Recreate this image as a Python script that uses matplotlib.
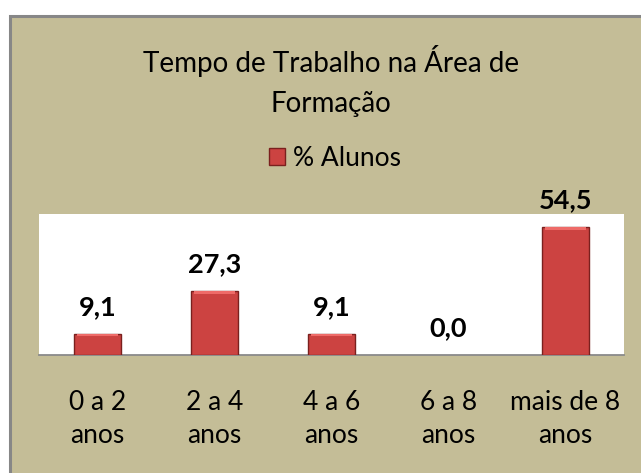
import matplotlib.pyplot as plt
from matplotlib.patches import Rectangle

plt.rcParams['font.family'] = ['Lato', 'DejaVu Sans']

# data
categories = ['0 a 2\nanos', '2 a 4\nanos', '4 a 6\nanos', '6 a 8\nanos', 'mais de 8\nanos']
values = [9.1, 27.3, 9.1, 0.0, 54.5]
value_labels = ['9,1', '27,3', '9,1', '0,0', '54,5']
series_name = '% Alunos'
title = 'Tempo de Trabalho na Área de\nFormação'

W, H = 641, 473
fig = plt.figure(figsize=(W / 100, H / 100), dpi=100, facecolor='white')

# tan chart area with grey border
fig.patches.append(Rectangle((9.5 / W, -0.2), 1.2, 1.2 - 15.5 / H,
                             transform=fig.transFigure, facecolor='#C4BD97',
                             edgecolor='#878787', linewidth=2.2, zorder=-5))

ax = fig.add_axes([39 / W, 1 - 355 / H, 585 / W, 141 / H])
ax.set_facecolor('white')

x = range(len(categories))
# no outline for empty bars
lw = [1.0 if v > 0 else 0 for v in values]
bars = ax.bar(x, values, width=0.40, color='#CC4341', edgecolor='#7A201E',
              linewidth=lw, label=series_name, zorder=3)
# light bevel on top of each bar
for b in bars:
    if b.get_height() > 0:
        ax.bar(b.get_x() + b.get_width() / 2, min(1.2, b.get_height()),
               bottom=b.get_height() - min(1.2, b.get_height()),
               width=b.get_width() * 0.86, color='#EE6B68', linewidth=0, zorder=4)

for xi, v, lab in zip(x, values, value_labels):
    ax.annotate(lab, (xi, v), xytext=(0, 13.5), textcoords='offset points',
                ha='center', va='baseline', fontsize=19.5, fontweight='bold', color='black')

ax.set_xlim(-0.5, len(categories) - 0.5)
ax.set_ylim(0, 60)
ax.set_yticks([])
ax.set_xticks(list(x))
ax.set_xticklabels(categories, fontsize=19, linespacing=1.4)
ax.tick_params(axis='x', length=0, pad=25)
for s in ['top', 'left', 'right']:
    ax.spines[s].set_visible(False)
ax.spines['bottom'].set_color('#8A8A8A')
ax.spines['bottom'].set_linewidth(1.3)

fig.text(331 / W, 1 - 45 / H, title, ha='center', va='top', fontsize=20,
         linespacing=1.65, color='black')

ax.legend(loc='center', bbox_to_anchor=(335 / W, 1 - 158 / H),
          bbox_transform=fig.transFigure, frameon=False, fontsize=19,
          handlelength=0.6, handleheight=0.6, handletextpad=0.3)

fig.savefig('out.png', dpi=100, facecolor='white')
